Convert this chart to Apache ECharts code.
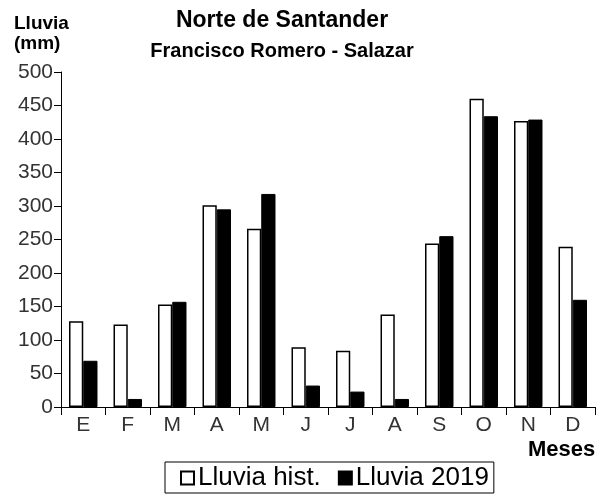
<!DOCTYPE html>
<html>
<head>
<meta charset="utf-8">
<script src="https://cdn.jsdelivr.net/npm/echarts@6/dist/echarts.min.js"></script>
<style>html,body{margin:0;padding:0;background:#fff}#c{width:607px;height:494px}</style>
</head>
<body>
<div id="c"></div>
<script>
const months = ['E','F','M','A','M','J','J','A','S','O','N','D'];
const lluviaHist = [128, 123, 153, 301, 266, 89, 84, 138, 244, 460, 427, 239];
const lluvia2019 = [69, 12, 157, 295, 318, 32, 23, 12, 255, 434, 429, 160];
const yTicks = [0, 50, 100, 150, 200, 250, 300, 350, 400, 450, 500];

const chart = echarts.init(document.getElementById('c'), null, {renderer: 'canvas'});
const ff = 'Liberation Sans, Arial, sans-serif';
chart.setOption({
  animation: false,
  backgroundColor: '#fff',
  title: [
    {text: 'Norte de Santander', left: 277, top: 4, textAlign: 'center',
     textStyle: {fontFamily: ff, fontSize: 23, fontWeight: 'bold', color: '#000'}},
    {text: 'Francisco Romero - Salazar', left: 277, top: 36, textAlign: 'center',
     textStyle: {fontFamily: ff, fontSize: 20, fontWeight: 'bold', color: '#000'}},
    {text: 'Lluvia\n(mm)', left: 9, top: 9,
     textStyle: {fontFamily: ff, fontSize: 19, fontWeight: 'bold', color: '#000', lineHeight: 20}},
    {text: 'Meses', left: 523, top: 434,
     textStyle: {fontFamily: ff, fontSize: 22, fontWeight: 'bold', color: '#000'}}
  ],
  legend: {
    left: 165, top: 462, width: 327,
    padding: [3, 5, 2, 15],
    borderColor: '#000', borderWidth: 1,
    itemWidth: 13, itemHeight: 13, itemGap: 17,
    icon: 'rect',
    textStyle: {fontFamily: ff, fontSize: 26, color: '#000', padding: [0, 0, 0, -1]},
    data: ['Lluvia hist.', 'Lluvia 2019']
  },
  grid: {left: 61, right: 12, top: 72, bottom: 87, containLabel: false},
  xAxis: {
    type: 'category',
    data: months,
    axisLine: {lineStyle: {color: '#000', width: 1}},
    axisTick: {show: true, length: 8, alignWithLabel: false, lineStyle: {color: '#000'}},
    axisLabel: {fontFamily: ff, fontSize: 21, color: '#333', margin: 8}
  },
  yAxis: {
    type: 'value', min: 0, max: 500, interval: 50,
    axisLine: {show: true, lineStyle: {color: '#000', width: 1}},
    axisTick: {show: true, length: 7, lineStyle: {color: '#000'}},
    splitLine: {show: false},
    axisLabel: {fontFamily: ff, fontSize: 21, color: '#333', margin: 8,
      formatter: v => yTicks.includes(v) ? String(v) : ''}
  },
  series: [
    {name: 'Lluvia hist.', type: 'bar', data: lluviaHist, barGap: '0%', barCategoryGap: '36%',
     itemStyle: {color: '#fff', borderColor: '#000', borderWidth: 1.5}},
    {name: 'Lluvia 2019', type: 'bar', data: lluvia2019, barGap: '0%', barCategoryGap: '36%',
     itemStyle: {color: '#000', borderColor: '#000', borderWidth: 1}}
  ]
});
</script>
</body>
</html>
